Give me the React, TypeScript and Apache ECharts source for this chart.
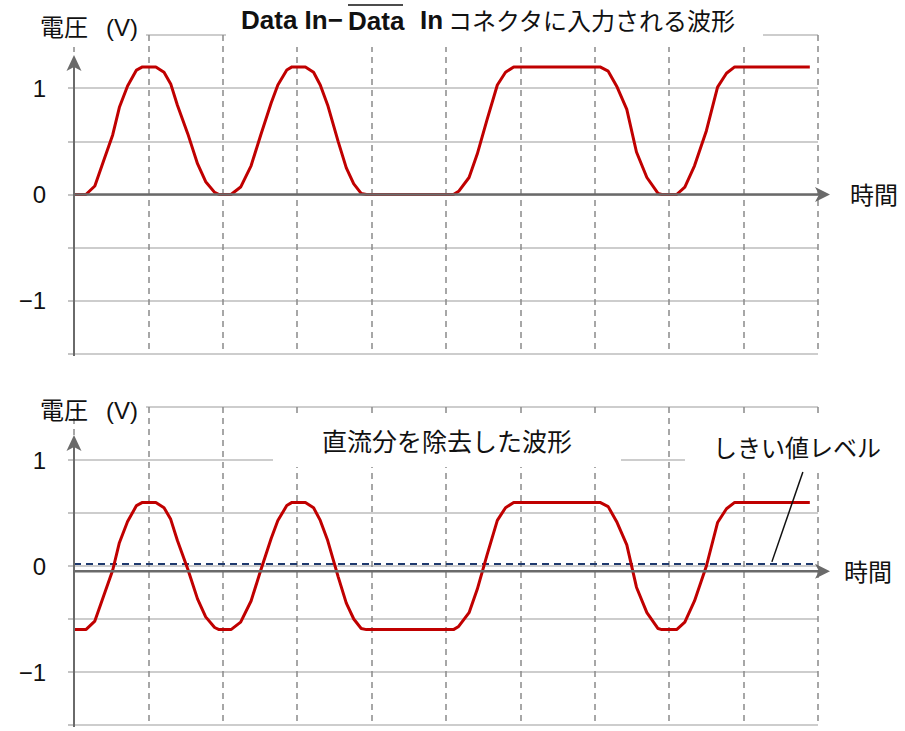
import React, { useEffect, useRef } from "react";
import * as echarts from "echarts";

// ---- data ----
const TIME_TICKS = [0, 1, 2, 3, 4, 5, 6, 7, 8, 9, 10];
const VOLT_TICKS = [-1.5, -1, -0.5, 0, 0.5, 1, 1.5];
const VOLT_LABELS = [-1, 0, 1];

// Data In − /Data In waveform (time in grid divisions, volts)
const WAVE_TIME = [
  0, 0.16, 0.28, 0.41, 0.52, 0.61, 0.72, 0.84, 0.92, 1.1, 1.21, 1.3, 1.39, 1.53, 1.66, 1.77, 1.89, 1.95,
  2.11, 2.24, 2.38, 2.51, 2.65, 2.74, 2.86, 2.93, 3.11, 3.22, 3.31, 3.41, 3.55, 3.66, 3.76, 3.86, 3.93,
  5.1, 5.17, 5.31, 5.42, 5.55, 5.69, 5.8, 5.91, 7.07, 7.18, 7.3, 7.43, 7.56, 7.7, 7.85, 7.9,
  8.1, 8.21, 8.34, 8.5, 8.65, 8.77, 8.88, 9.89,
];
const WAVE_VOLT = [
  0, 0, 0.08, 0.34, 0.56, 0.82, 1.02, 1.17, 1.2, 1.2, 1.15, 1.04, 0.84, 0.57, 0.29, 0.12, 0.02, 0,
  0, 0.07, 0.27, 0.56, 0.86, 1.03, 1.17, 1.2, 1.2, 1.15, 1.03, 0.84, 0.5, 0.25, 0.1, 0.01, 0,
  0, 0.03, 0.16, 0.38, 0.7, 1.03, 1.15, 1.2, 1.2, 1.16, 1.01, 0.8, 0.4, 0.16, 0.01, 0,
  0, 0.07, 0.27, 0.6, 1.01, 1.14, 1.2, 1.2,
];
const DC_LEVEL = 0.6; // DC component removed in the lower chart
const THRESHOLD_LEVEL = 0.02;
const LOWER_AXIS_LEVEL = -0.05;
const THRESHOLD_POINTER_TIME = 9.38;

const TOP_TITLE_PARTS = ["Data In−", "Data", "In", "コネクタに入力される波形"];
const BOTTOM_TITLE = "直流分を除去した波形";
const Y_NAME_PARTS = ["電圧", "(V)"];
const X_NAME = "時間";
const THRESHOLD_NAME = "しきい値レベル";

// ---- styles ----
const RED = "#c00000";
const NAVY = "#1f3a6e";
const GRID_GREY = "#cdcdcd";
const DASH_GREY = "#8a8a8a";
const AXIS_GREY = "#6a6a6a";
const LATIN = '"Liberation Sans", Arial, sans-serif';
const JP = '"Liberation Sans", "Noto Sans CJK JP", sans-serif';

const GRIDS = [
  { left: 74, top: 35, width: 744, height: 319 },
  { left: 74, top: 407, width: 744, height: 318 },
];

export default function App() {
  const ref = useRef<HTMLDivElement>(null);
  useEffect(() => {
    if (!ref.current) return;
    const chart = echarts.init(ref.current, undefined, { renderer: "svg" });
    const tMin = TIME_TICKS[0];
    const tMax = TIME_TICKS[TIME_TICKS.length - 1];
    const vMin = VOLT_TICKS[0];
    const vMax = VOLT_TICKS[VOLT_TICKS.length - 1];
    const upper = WAVE_TIME.map((t, i) => [t, WAVE_VOLT[i]]);
    const lower = WAVE_TIME.map((t, i) => [t, +(WAVE_VOLT[i] - DC_LEVEL).toFixed(3)]);

    const option: any = {
      animation: false,
      backgroundColor: "#ffffff",
      grid: GRIDS.map((g) => ({ ...g, containLabel: false })),
      xAxis: GRIDS.map((_, i) => ({
        type: "value",
        gridIndex: i,
        min: tMin,
        max: tMax,
        interval: 1,
        axisLine: { show: false },
        axisTick: { show: false },
        axisLabel: { show: false },
        splitLine: { show: true, lineStyle: { color: DASH_GREY, width: 1.5, type: [6, 5] } },
      })),
      yAxis: GRIDS.map((_, i) => ({
        type: "value",
        gridIndex: i,
        min: vMin,
        max: vMax,
        interval: 0.5,
        axisLine: { show: false },
        axisTick: { show: true, length: 6, lineStyle: { color: "#b0b0b0", width: 1.5 } },
        axisLabel: {
          show: true,
          margin: 28,
          fontSize: 24,
          fontFamily: LATIN,
          color: "#111",
          formatter: (v: number) =>
            VOLT_LABELS.includes(v) ? (v < 0 ? "−" + Math.abs(v) : String(v)) : "",
        },
        splitLine: { show: true, lineStyle: { color: GRID_GREY, width: 2 } },
      })),
      series: [
        {
          type: "line",
          xAxisIndex: 0,
          yAxisIndex: 0,
          data: upper,
          showSymbol: false,
          lineStyle: { color: RED, width: 3 },
          z: 5,
        },
        {
          type: "line",
          xAxisIndex: 1,
          yAxisIndex: 1,
          data: [
            [tMin, THRESHOLD_LEVEL],
            [tMax, THRESHOLD_LEVEL],
          ],
          showSymbol: false,
          lineStyle: { color: NAVY, width: 2, type: [7, 5] },
          z: 4,
        },
        {
          type: "line",
          xAxisIndex: 1,
          yAxisIndex: 1,
          data: lower,
          showSymbol: false,
          lineStyle: { color: RED, width: 3 },
          z: 5,
        },
      ],
    };
    chart.setOption(option);

    const px = (gi: number, t: number, v: number) =>
      chart.convertToPixel({ gridIndex: gi } as any, [t, v]) as number[];

    const graphics: any[] = [];
    const text = (x: number, y: number, t: string, size: number, opts: any = {}) => ({
      type: "text",
      x,
      y,
      z: 60,
      style: {
        text: t,
        fontSize: size,
        fontFamily: opts.family || JP,
        fontWeight: opts.weight || "normal",
        fill: "#111",
        align: opts.align || "left",
        verticalAlign: "middle",
        textAlign: opts.align || "left",
        textVerticalAlign: "middle",
      },
    });
    const rect = (x: number, y: number, w: number, h: number) => ({
      type: "rect",
      z: 50,
      shape: { x, y, width: w, height: h },
      style: { fill: "#ffffff" },
    });

    const axisLevels = [0, LOWER_AXIS_LEVEL];
    const arrowGap = [20, 28];
    const xNameGap = [20, 14];
    GRIDS.forEach((g, i) => {
      const [x0, yAxisLvl] = px(i, tMin, axisLevels[i]);
      const [xEnd] = px(i, tMax, axisLevels[i]);
      const [, yBottom] = px(i, tMin, vMin);
      const [, yTop] = px(i, tMin, vMax);
      const tipY = yTop + arrowGap[i];
      const tipX = xEnd + 12;
      // y axis with arrow
      graphics.push({
        type: "line",
        z: 55,
        shape: { x1: x0, y1: yBottom + 2, x2: x0, y2: tipY + 8 },
        style: { stroke: AXIS_GREY, lineWidth: 2 },
      });
      graphics.push({
        type: "polygon",
        z: 55,
        shape: {
          points: [
            [x0, tipY],
            [x0 - 7.5, tipY + 16],
            [x0, tipY + 12],
            [x0 + 7.5, tipY + 16],
          ],
        },
        style: { fill: AXIS_GREY },
      });
      // x axis with arrow
      graphics.push({
        type: "line",
        z: 55,
        shape: { x1: x0, y1: yAxisLvl, x2: tipX - 8, y2: yAxisLvl },
        style: { stroke: AXIS_GREY, lineWidth: 2.5 },
      });
      graphics.push({
        type: "polygon",
        z: 55,
        shape: {
          points: [
            [tipX, yAxisLvl],
            [tipX - 15, yAxisLvl - 7.5],
            [tipX - 11, yAxisLvl],
            [tipX - 15, yAxisLvl + 7.5],
          ],
        },
        style: { fill: AXIS_GREY },
      });
      graphics.push(text(tipX + xNameGap[i], yAxisLvl + 1, X_NAME, 24));
      // y name with white box
      graphics.push(rect(20, yTop - 32, g.left + 72 - 20, 44 - i * 6));
      const nameY = yTop + (i === 0 ? -8 : 3);
      graphics.push(text(40, nameY, Y_NAME_PARTS[0], 24));
      graphics.push(text(106, nameY, Y_NAME_PARTS[1], 24, { family: LATIN }));
    });

    // top title
    graphics.push(rect(226, 0, 537, 47));
    graphics.push(text(241, 20, TOP_TITLE_PARTS[0], 26, { family: LATIN, weight: "bold" }));
    graphics.push(text(348, 21, TOP_TITLE_PARTS[1], 26, { family: LATIN, weight: "bold" }));
    graphics.push({
      type: "line",
      z: 60,
      shape: { x1: 348, y1: 5, x2: 403, y2: 5 },
      style: { stroke: "#111", lineWidth: 1.5 },
    });
    graphics.push(text(420, 20, TOP_TITLE_PARTS[2], 26, { family: LATIN, weight: "bold" }));
    graphics.push(text(448, 21, TOP_TITLE_PARTS[3], 24));

    // bottom title and threshold label
    graphics.push(rect(273, 414, 348, 53));
    graphics.push(text(447, 442, BOTTOM_TITLE, 25, { align: "center" }));
    graphics.push(rect(685, 414, 210, 56));
    graphics.push(text(797, 448, THRESHOLD_NAME, 24, { align: "center" }));
    const [thX, thY] = px(1, THRESHOLD_POINTER_TIME, THRESHOLD_LEVEL);
    graphics.push({
      type: "line",
      z: 60,
      shape: { x1: thX + 31, y1: 472, x2: thX, y2: thY - 2 },
      style: { stroke: "#111", lineWidth: 1.5 },
    });

    chart.setOption({ graphic: graphics });
    return () => chart.dispose();
  }, []);
  return (
    <div
      ref={ref}
      style={{ position: "fixed", left: 0, top: 0, width: 905, height: 731, background: "#fff" }}
    />
  );
}
